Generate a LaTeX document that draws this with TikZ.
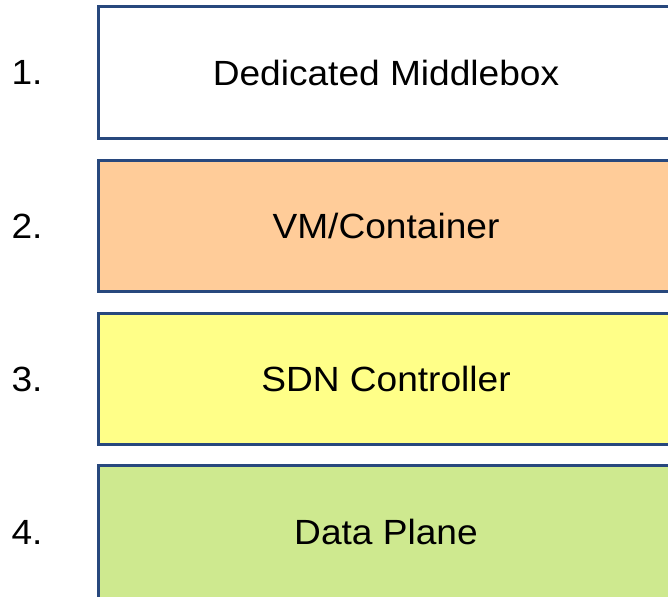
\documentclass[tikz,border=0pt]{standalone}
\usepackage{fontspec}
\setmainfont{Liberation Sans}[FakeStretch=1.06]
\definecolor{edgeblue}{RGB}{40,72,125}
\definecolor{peach}{RGB}{255,204,153}
\definecolor{paleyellow}{RGB}{255,255,136}
\definecolor{palegreen}{RGB}{206,233,143}
\begin{document}
\begin{tikzpicture}[x=1pt,y=1pt,
  layerbox/.style={draw=edgeblue,line width=3pt},
  boxtext/.style={font=\fontsize{35}{40}\selectfont,anchor=base,inner sep=0pt},
  numtext/.style={font=\fontsize{35}{40}\selectfont,anchor=base,inner sep=0pt}]
\useasboundingbox (0,0) rectangle (668,-596);
\begin{scope}
\clip (0,0) rectangle (668,-596);
\draw[layerbox,fill=white] (98,-7) rectangle (674,-139);
\draw[layerbox,fill=peach] (98,-160) rectangle (674,-291);
\draw[layerbox,fill=paleyellow] (98,-313) rectangle (674,-444);
\draw[layerbox,fill=palegreen] (98,-465) rectangle (674,-601);
\end{scope}
\node[boxtext] (t1) at (386,-86) {Dedicated Middlebox};
\node[boxtext] (t2) at (386,-238) {VM/Container};
\node[boxtext] (t3) at (386,-391) {SDN Controller};
\node[boxtext] (t4) at (386,-544) {Data Plane};
\node[numtext] (n1) at (27,-85) {1.};
\node[numtext] (n2) at (27,-238) {2.};
\node[numtext] (n3) at (27,-391) {3.};
\node[numtext] (n4) at (27,-544) {4.};
\end{tikzpicture}
\end{document}
